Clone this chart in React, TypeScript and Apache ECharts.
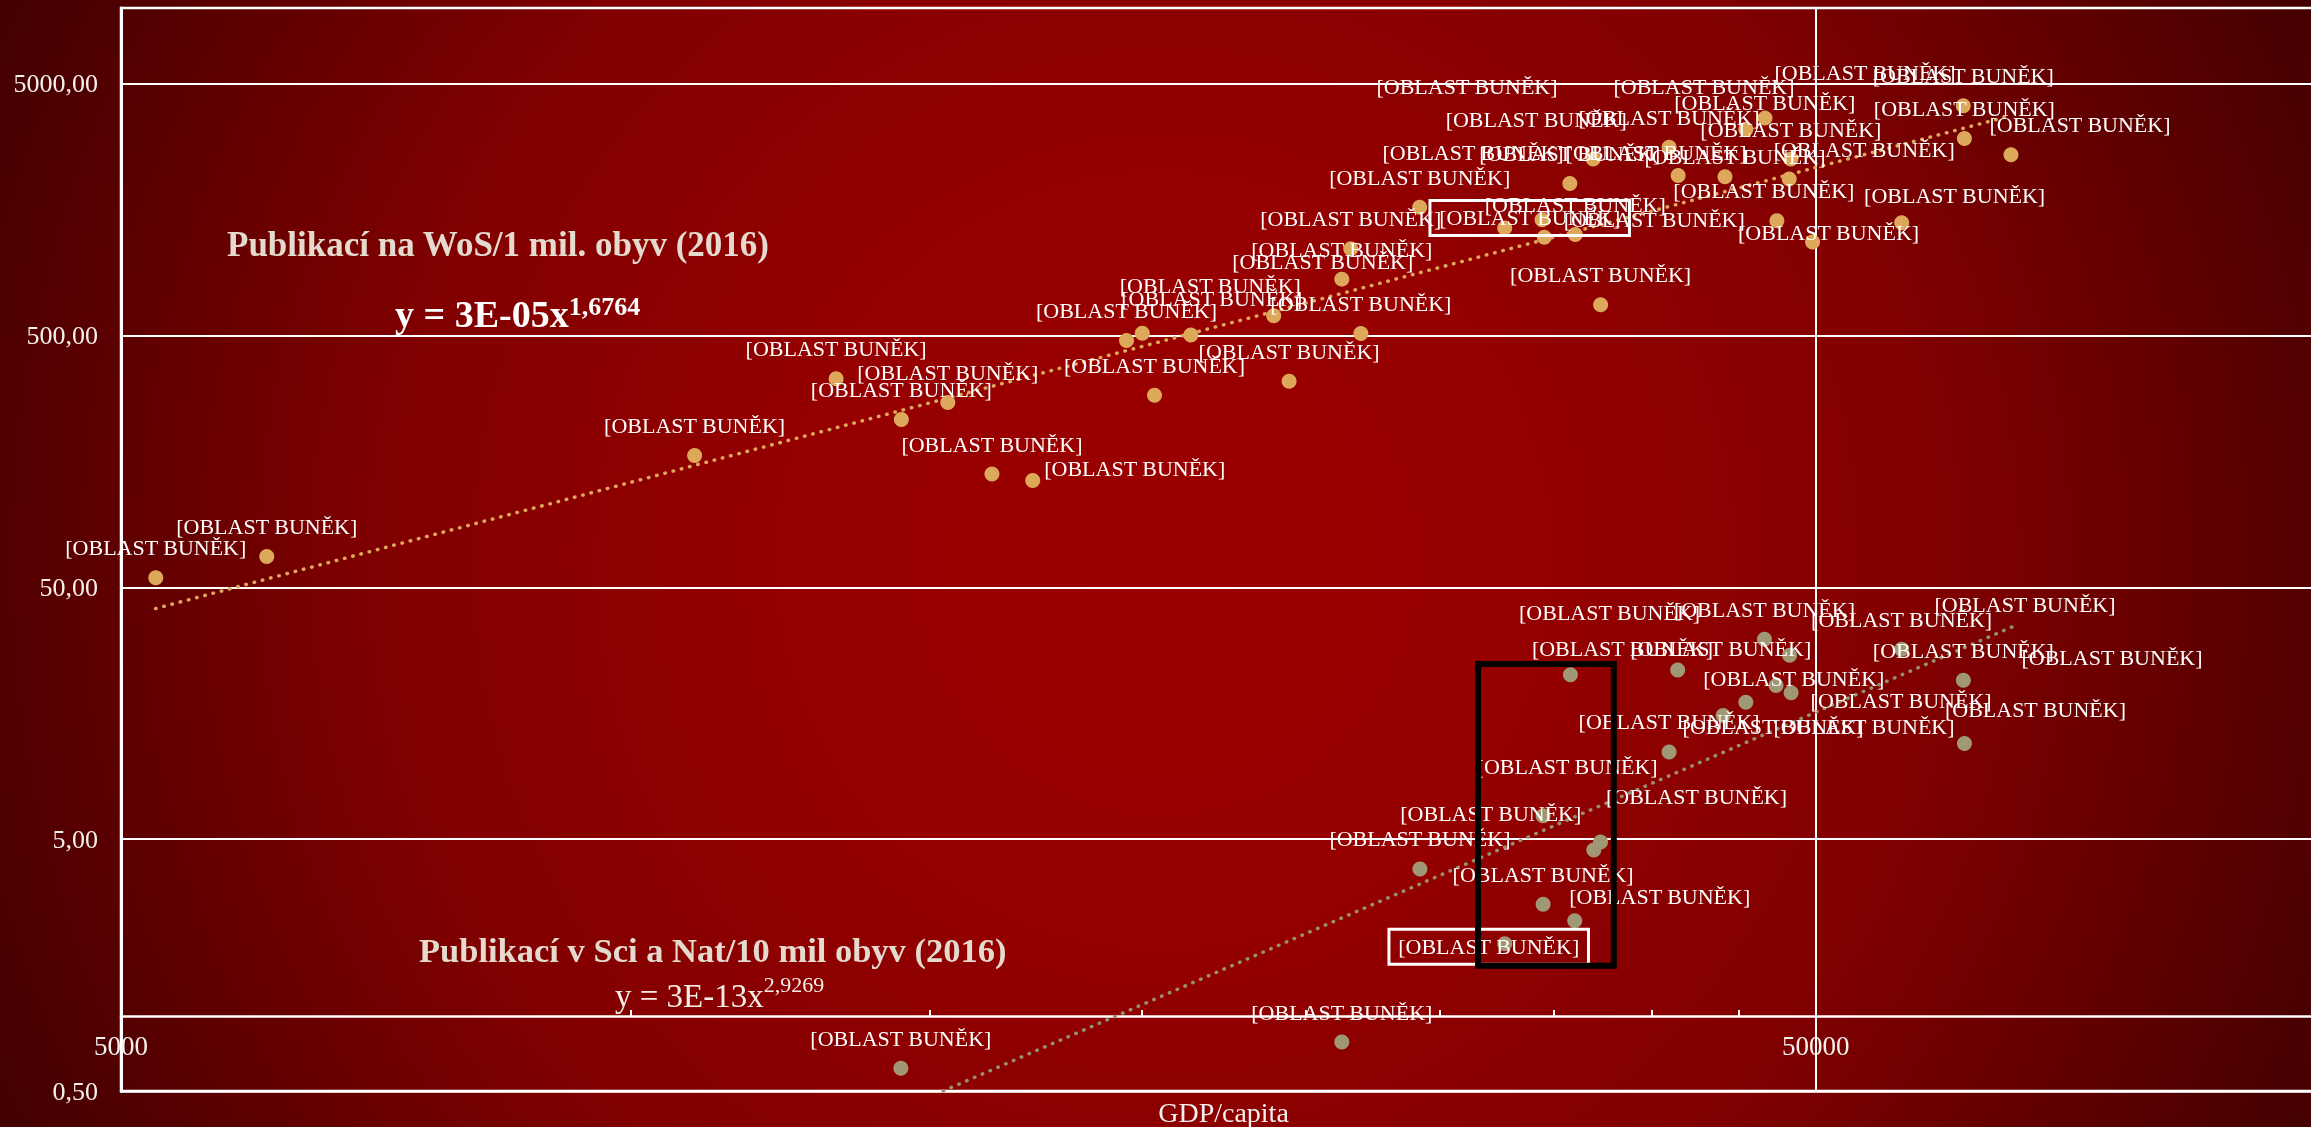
import React, { useEffect, useRef } from "react";
import * as echarts from "echarts";

const FONT = "'Liberation Serif', 'Times New Roman', serif";
const POINT_LABEL = "[OBLAST BUNĚK]";

// Publikací na WoS / 1 mil. obyv (2016) vs GDP/capita
const wosGdp = [5242, 6095, 10900, 13210, 14435, 15375, 16325, 17255, 19600, 20025, 20360, 21390, 23940, 24445, 26260, 26580, 26950, 29190, 32765, 34470, 34575, 35795, 36060, 36950, 37325, 40965, 41470, 44195, 45465, 46665, 47425, 48225, 48335, 49780, 56185, 61090, 61185, 65180];
const wosValues = [54.6, 66.3, 167, 337, 232, 271, 141, 133, 478, 511, 290, 503, 599, 329, 838, 1107, 510, 1616, 1339, 1443, 1228, 2007, 1259, 2512, 663, 2800, 2164, 2138, 3300, 3653, 1430, 2092, 2512, 1177, 1404, 4090, 3034, 2613];

// Publikací v Sci a Nat / 10 mil obyv (2016) vs GDP/capita
const sciGdp = [14425, 26260, 29200, 32765, 34520, 34520, 35825, 36035, 36980, 37320, 40965, 41445, 44085, 45465, 46630, 47370, 48250, 48350, 56185, 61100, 61190];
const sciValues = [0.616, 0.782, 3.81, 1.92, 2.76, 6.2, 22.5, 2.37, 4.53, 4.87, 11.1, 23.5, 15.5, 17.5, 31.1, 20.4, 26.9, 19.1, 28.4, 21.4, 12.0];

// power trendlines (straight on log-log axes), end points
const wosTrendGdp = [5240, 65150];
const wosTrendValues = [41.2, 3733];
const sciTrendGdp = [15280, 65260];
const sciTrendValues = [0.5, 34.8];

// axes
const yTickValues = [0.5, 5, 50, 500, 5000];
const yGridValues = [5, 50, 500, 5000];
const xLabelValues = [5000, 50000];
const xMinorTicks = [10000, 15000, 20000, 25000, 30000, 35000, 40000, 45000, 50000];
const xGridValues = [50000];

// black highlight rectangle (data coordinates)
const highlightGdp = [31600, 38000];
const highlightValues = [1.57, 24.8];

// ---- label styling (which labels are moved / boxed) ----
const wosRightLabels = [7];
const wosBoxedLabel = 18;
const sciBoxedLabel = 3;
const wosLabelShift: Record<number, [number, number]> = {
  9: [68, -18], 11: [21, -6], 12: [49, -24], 19: [-69, -37], 20: [110, 12], 23: [-57, -10],
  26: [-22, 7], 27: [10, 10], 28: [19, 3], 29: [100, -16], 30: [-13, 0], 31: [75, 0],
  33: [16, 21], 34: [53, 3], 37: [69, 0],
};
const sciLabelShift: Record<number, [number, number]> = {
  5: [24, -19], 6: [52, 4], 7: [85, 6], 8: [-103, -6], 9: [96, -16], 11: [43, 9],
  12: [50, 41], 13: [48, 6], 15: [88, 71], 16: [-180, -13], 17: [110, 38], 20: [71, -4],
};
// free-standing cell-range labels that have no visible marker (pixel centres)
const looseLabelPositions: [number, number][] = [[1467, 86], [1704, 86], [2025, 604], [2112, 657]];

const GOLD = "#DEA85A";
const OLIVE = "#A09874";
const OLIVE_TREND = "#969070";

function boxed(dx: number, dy: number) {
  return {
    position: "inside",
    offset: [dx, dy],
    borderColor: "#ffffff",
    borderWidth: 3,
    padding: [5, 9],
  };
}

function buildOption() {
  const wosData = wosGdp.map((g, i) => {
    const item: any = { value: [g, wosValues[i]] };
    if (i === wosBoxedLabel) item.label = boxed(25, -10);
    else if (wosRightLabels.includes(i)) item.label = { position: "right", distance: 4, offset: [0, -12] };
    else if (wosLabelShift[i]) item.label = { offset: wosLabelShift[i] };
    return item;
  });
  const sciData = sciGdp.map((g, i) => {
    const item: any = { value: [g, sciValues[i]] };
    if (i === sciBoxedLabel) item.label = boxed(-16, 3);
    else if (sciLabelShift[i]) item.label = { offset: sciLabelShift[i] };
    return item;
  });
  const pointLabel = {
    show: true,
    formatter: POINT_LABEL,
    position: "top",
    distance: 10,
    color: "#ffffff",
    fontSize: 22,
    lineHeight: 25,
    fontFamily: FONT,
  };

  const gridLines = [
    ...yGridValues.map((v) => ({ yAxis: v })),
    ...xGridValues.map((v) => ({ xAxis: v })),
  ];

  const looseLabels = looseLabelPositions.map(([x, y]) => ({
    type: "text",
    x,
    y,
    z: 50,
    style: { text: POINT_LABEL, font: `22px ${FONT}`, fill: "#FFFFFF", align: "center", verticalAlign: "middle" },
  }));

  return {
    animation: false,
    backgroundColor: {
      type: "radial",
      x: 1165,
      y: 560,
      r: 1400,
      global: true,
      colorStops: [
        { offset: 0, color: "#9B0000" },
        { offset: 0.25, color: "#960000" },
        { offset: 0.55, color: "#810000" },
        { offset: 0.85, color: "#4E0000" },
        { offset: 1, color: "#360000" },
      ],
    },
    grid: [
      { left: 121, right: -15, top: 8, bottom: 36, show: true, borderColor: "#ffffff", borderWidth: 2.5, backgroundColor: "transparent", outerBoundsMode: "none", containLabel: false },
      { left: 121, right: -15, top: 8, bottom: 111, show: false, outerBoundsMode: "none", containLabel: false },
    ],
    xAxis: [
      {
        type: "log",
        gridIndex: 0,
        logBase: 10,
        min: 5000,
        max: 100000,
        axisLine: { show: true, onZero: false, lineStyle: { color: "#ffffff", width: 2.5 } },
        axisTick: { show: false },
        axisLabel: { show: false },
        splitLine: { show: false },
        name: "GDP/capita",
        nameLocation: "middle",
        nameGap: 7,
        nameTextStyle: { color: "#F4F0EC", fontSize: 28, fontFamily: FONT },
      },
      {
        type: "log",
        gridIndex: 1,
        logBase: 10,
        min: 5000,
        max: 100000,
        axisLine: { show: true, onZero: false, lineStyle: { color: "#ffffff", width: 2.5 } },
        axisTick: { show: true, inside: true, length: 6, customValues: xMinorTicks, lineStyle: { color: "#ffffff", width: 2 } },
        axisLabel: {
          show: true,
          customValues: xLabelValues,
          margin: 16,
          color: "#F4F0EC",
          fontSize: 27,
          fontFamily: FONT,
          formatter: (v: number) => String(Math.round(v)),
        },
        splitLine: { show: false },
      },
    ],
    yAxis: [
      {
        type: "log",
        gridIndex: 0,
        logBase: 10,
        min: 0.5,
        max: 10000,
        axisLine: { show: true, onZero: false, lineStyle: { color: "#ffffff", width: 3 } },
        axisTick: { show: false },
        axisLabel: {
          show: true,
          customValues: yTickValues,
          margin: 23,
          color: "#F4F0EC",
          fontSize: 26,
          fontFamily: FONT,
          formatter: (v: number) => Number(v).toFixed(2).replace(".", ","),
        },
        splitLine: { show: false },
      },
      { type: "value", gridIndex: 1, min: 0, max: 1, show: false },
    ],
    graphic: [
      {
        type: "text",
        x: 227,
        y: 244,
        style: { text: "Publikací na WoS/1 mil. obyv (2016)", font: `bold 35px ${FONT}`, fill: "#E4DACE", align: "left", verticalAlign: "middle" },
      },
      {
        type: "text",
        x: 395,
        y: 314,
        style: {
          text: "{m|y = 3E-05x}{s|1,6764}",
          align: "left",
          verticalAlign: "middle",
          fill: "#FFFFFF",
          rich: {
            m: { fontFamily: FONT, fontSize: 38, fontWeight: "bold", fill: "#FFFFFF", lineHeight: 44 },
            s: { fontFamily: FONT, fontSize: 26, fontWeight: "bold", fill: "#FFFFFF", lineHeight: 26, padding: [0, 0, 16, 0] },
          },
        },
      },
      {
        type: "text",
        x: 419,
        y: 950,
        style: { text: "Publikací v Sci a Nat/10 mil obyv (2016)", font: `bold 34.5px ${FONT}`, fill: "#E4DACE", align: "left", verticalAlign: "middle" },
      },
      {
        type: "text",
        x: 615,
        y: 996,
        style: {
          text: "{m|y = 3E-13x}{s|2,9269}",
          align: "left",
          verticalAlign: "middle",
          fill: "#F4EEE8",
          rich: {
            m: { fontFamily: FONT, fontSize: 33, fill: "#F4EEE8", lineHeight: 50 },
            s: { fontFamily: FONT, fontSize: 22, fill: "#F4EEE8", lineHeight: 22, padding: [0, 0, 24, 0] },
          },
        },
      },
      ...looseLabels,
    ],
    series: [
      {
        type: "line",
        name: "WoS trend",
        xAxisIndex: 0,
        yAxisIndex: 0,
        data: wosTrendGdp.map((g, i) => [g, wosTrendValues[i]]),
        showSymbol: false,
        symbol: "none",
        silent: true,
        lineStyle: { color: GOLD, width: 3.5, type: [0.5, 8], cap: "round" },
        z: 2,
        markLine: {
          silent: true,
          z: 1,
          symbol: ["none", "none"],
          label: { show: false },
          lineStyle: { color: "#ffffff", width: 2, type: "solid" },
          emphasis: { disabled: true },
          data: gridLines,
        },
      },
      {
        type: "line",
        name: "Sci trend",
        xAxisIndex: 0,
        yAxisIndex: 0,
        data: sciTrendGdp.map((g, i) => [g, sciTrendValues[i]]),
        showSymbol: false,
        symbol: "none",
        silent: true,
        lineStyle: { color: OLIVE_TREND, width: 3.5, type: [0.5, 8], cap: "round" },
        z: 2,
      },
      {
        type: "scatter",
        name: "Publikací na WoS/1 mil. obyv (2016)",
        xAxisIndex: 0,
        yAxisIndex: 0,
        data: wosData,
        symbolSize: 15,
        itemStyle: { color: GOLD, opacity: 1 },
        label: pointLabel,
        z: 3,
      },
      {
        type: "scatter",
        name: "Publikací v Sci a Nat/10 mil obyv (2016)",
        xAxisIndex: 0,
        yAxisIndex: 0,
        data: sciData,
        symbolSize: 15,
        itemStyle: { color: OLIVE, opacity: 1 },
        label: pointLabel,
        z: 4,
        markArea: {
          silent: true,
          z: 10,
          itemStyle: { color: "rgba(0,0,0,0)", borderColor: "#000000", borderWidth: 6 },
          label: { show: false },
          emphasis: { disabled: true },
          data: [[
            { xAxis: highlightGdp[0], yAxis: highlightValues[1] },
            { xAxis: highlightGdp[1], yAxis: highlightValues[0] },
          ]],
        },
      },
    ],
  };
}

export default function App() {
  const ref = useRef<HTMLDivElement>(null);
  useEffect(() => {
    if (!ref.current) return;
    const chart = echarts.init(ref.current, undefined, { renderer: "svg" });
    chart.setOption(buildOption() as any);
    return () => chart.dispose();
  }, []);
  return <div ref={ref} style={{ position: "fixed", left: 0, top: 0, width: 2311, height: 1127 }} />;
}
